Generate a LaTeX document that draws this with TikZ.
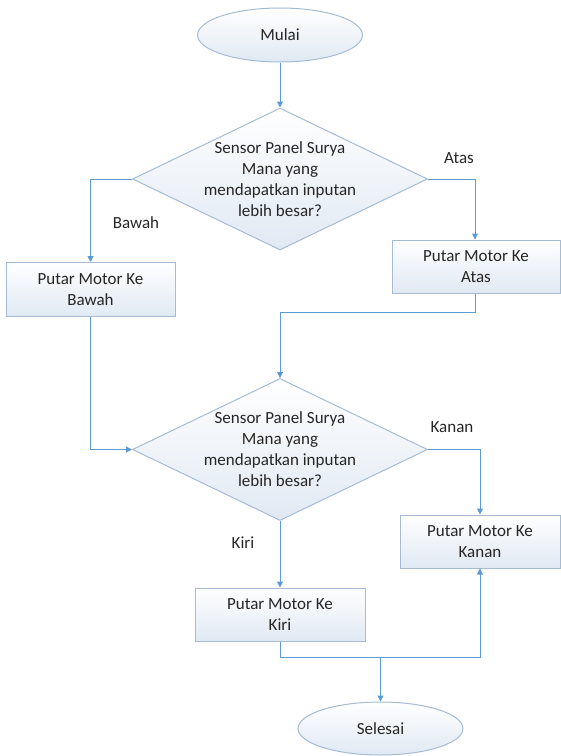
\documentclass[tikz,border=0pt]{standalone}
\usepackage{fontspec}
\setmainfont{Carlito}
\usetikzlibrary{shapes.geometric,arrows.meta}
\definecolor{conn}{RGB}{91,155,213}
\definecolor{edgec}{RGB}{165,188,212}
\definecolor{fillb}{RGB}{224,233,243}
\definecolor{txtc}{RGB}{38,38,38}
\begin{document}
\begin{tikzpicture}[x=1pt,y=-1pt,
  every node/.style={font=\fontsize{17}{21}\selectfont, text=txtc},
  proc/.style={draw=edgec, line width=1pt, top color=white, bottom color=fillb,
    minimum width=169pt, minimum height=54pt, align=center, inner sep=0pt},
  term/.style={ellipse, draw=edgec, line width=1pt, top color=white, bottom color=fillb,
    minimum width=165pt, minimum height=54pt, inner sep=0pt},
  dec/.style={diamond, draw=edgec, line width=1pt, top color=white, bottom color=fillb,
    minimum width=295pt, minimum height=142pt, inner sep=0pt},
  conn/.style={draw=conn, line width=1pt, -{Triangle[length=6pt,width=6pt]}},
  line/.style={draw=conn, line width=1pt},
  lbl/.style={inner sep=0pt}
]
\useasboundingbox (0,0) rectangle (561,756);

\node[term] (start) at (280,35) {Mulai};
\node[dec, label={[name=d1t, align=center]center:{Sensor Panel Surya\\Mana yang\\mendapatkan inputan\\lebih besar?}}] (d1) at (280,179) {};
\node[proc] (bawah) at (90.5,289.5) {Putar Motor Ke\\Bawah};
\node[proc, minimum width=168pt, minimum height=53pt] (atas) at (476,266.5) {Putar Motor Ke\\Atas};
\node[dec, label={[name=d2t, align=center]center:{Sensor Panel Surya\\Mana yang\\mendapatkan inputan\\lebih besar?}}] (d2) at (280,449.5) {};
\node[proc, minimum width=160pt, minimum height=53pt] (kanan) at (480,541.5) {Putar Motor Ke\\Kanan};
\node[proc, minimum width=170pt, minimum height=53pt] (kiri) at (280,614.5) {Putar Motor Ke\\Kiri};
\node[term, minimum height=53pt] (end) at (380.5,728.5) {Selesai};

\node[lbl] (lbawah) at (136,223) {Bawah};
\node[lbl] (latas) at (459,158) {Atas};
\node[lbl] (lkanan) at (452,427) {Kanan};
\node[lbl] (lkiri) at (243,543) {Kiri};

\coordinate (j1) at (475,312);
\coordinate (j2) at (380.5,657);
\coordinate (j3) at (480,657);

\draw[conn] (start) -- (d1.north);
\draw[conn] (d1.west) -| (bawah.north);
\draw[conn] (d1.east) -| (atas.north -| j1);
\draw[conn] (atas.south -| j1) -- (j1) -| (d2.north);
\draw[conn] (bawah.south) |- (d2.west);
\draw[conn] (d2.east) -| (kanan.north);
\draw[conn] (d2.south) -- (kiri.north);
\draw[conn] (kiri.south) |- (j3) -- (kanan.south);
\draw[conn] (j2) -- (end.north);
\end{tikzpicture}
\end{document}
